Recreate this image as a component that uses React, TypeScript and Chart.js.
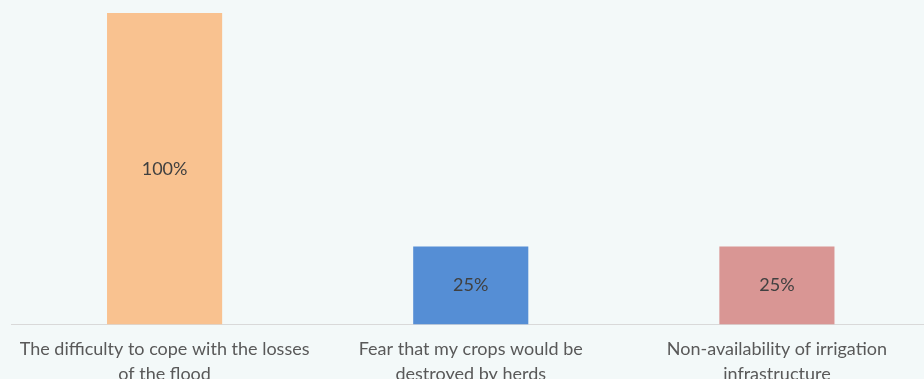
import React, { useEffect, useRef } from "react";
import { Chart, registerables } from "chart.js";

Chart.register(...registerables);

const categories: string[][] = [
  ["The difficulty to cope with the losses", "of the flood"],
  ["Fear that my crops would be", "destroyed by herds"],
  ["Non-availability of irrigation", "infrastructure"],
];
const values: number[] = [100, 25, 25];
const barColors: string[] = ["#F9C290", "#558ED5", "#D99694"];
const valueLabels: string[] = ["100%", "25%", "25%"];

const FONT = "Lato, 'Open Sans', sans-serif";

const barLabelPlugin = {
  id: "barLabels",
  afterDatasetsDraw(chart: any) {
    const ctx = chart.ctx;
    const meta = chart.getDatasetMeta(0);
    ctx.save();
    ctx.font = `18px ${FONT}`;
    ctx.fillStyle = "#404040";
    ctx.textAlign = "center";
    ctx.textBaseline = "middle";
    meta.data.forEach((bar: any, i: number) => {
      const y = (bar.y + bar.base) / 2;
      ctx.fillText(valueLabels[i], bar.x, y);
    });
    ctx.restore();
  },
};

export default function App() {
  const ref = useRef<HTMLCanvasElement>(null);
  useEffect(() => {
    if (!ref.current) return;
    const chart = new Chart(ref.current, {
      type: "bar",
      data: {
        labels: categories,
        datasets: [
          {
            data: values,
            backgroundColor: barColors,
            categoryPercentage: 1,
            barPercentage: 0.376,
          },
        ],
      },
      options: {
        animation: false,
        responsive: false,
        maintainAspectRatio: false,
        layout: { padding: { top: 13, left: 11.5, right: 0, bottom: 0 } },
        plugins: { legend: { display: false }, tooltip: { enabled: false } },
        scales: {
          x: {
            grid: { display: false, drawTicks: false },
            border: { display: true, color: "#D9D9D9", width: 1 },
            ticks: {
              color: "#595959",
              font: { family: FONT, size: 18, lineHeight: 1.35 },
              padding: 13,
              maxRotation: 0,
              autoSkip: false,
            },
          },
          y: {
            display: false,
            min: 0,
            max: 100,
          },
        },
      },
      plugins: [barLabelPlugin],
    });
    return () => chart.destroy();
  }, []);
  return (
    <div
      style={{
        position: "absolute",
        left: 0,
        top: 0,
        width: 924,
        height: 379,
        overflow: "hidden",
        background: "#F3F9F9",
      }}
    >
      <canvas ref={ref} width={930} height={399} style={{ display: "block" }} />
    </div>
  );
}
